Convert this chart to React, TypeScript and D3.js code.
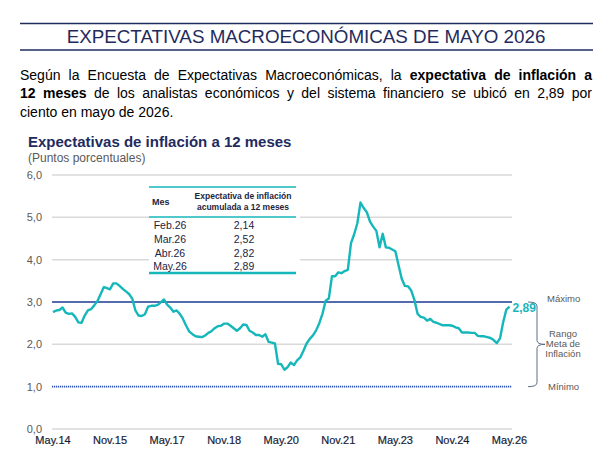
import React, { useLayoutEffect, useRef, useState } from "react";
import * as d3 from "d3";

// Monthly 12-month inflation expectation, May.14 .. May.26 (percentage points)
const expectation: number[] = [
  2.76, 2.80, 2.81, 2.87, 2.75, 2.72, 2.73, 2.65, 2.52, 2.51, 2.68, 2.80,
  2.83, 2.92, 3.02, 3.18, 3.35, 3.33, 3.30, 3.44, 3.44, 3.38, 3.31, 3.25,
  3.19, 3.08, 2.80, 2.68, 2.67, 2.71, 2.89, 2.91, 2.91, 2.93, 2.99, 3.06,
  2.94, 2.87, 2.77, 2.80, 2.72, 2.60, 2.44, 2.30, 2.24, 2.19, 2.18, 2.17,
  2.21, 2.27, 2.31, 2.38, 2.43, 2.44, 2.49, 2.49, 2.44, 2.38, 2.32, 2.38,
  2.47, 2.46, 2.32, 2.28, 2.22, 2.22, 2.18, 2.24, 2.06, 2.04, 2.02, 1.54,
  1.53, 1.40, 1.46, 1.57, 1.51, 1.62, 1.69, 1.85, 2.02, 2.13, 2.21, 2.33,
  2.50, 2.72, 3.03, 3.08, 3.61, 3.61, 3.70, 3.68, 3.73, 3.76, 4.39, 4.60,
  4.86, 5.35, 5.22, 5.12, 4.90, 4.78, 4.68, 4.29, 4.61, 4.29, 4.28, 4.24,
  4.20, 3.87, 3.55, 3.38, 3.37, 3.27, 3.05, 2.72, 2.65, 2.63, 2.56, 2.60,
  2.53, 2.51, 2.48, 2.45, 2.45, 2.45, 2.44, 2.40, 2.38, 2.28, 2.28, 2.28,
  2.27, 2.27, 2.20, 2.19, 2.19, 2.17, 2.15, 2.10, 2.03, 2.14, 2.52, 2.82,
  2.89,
];

const xTickLabels = ["May.14", "Nov.15", "May.17", "Nov.18", "May.20", "Nov.21", "May.23", "Nov.24", "May.26"];
const xTickMonths = [0, 18, 36, 54, 72, 90, 108, 126, 144];
const yTicks = [0, 1, 2, 3, 4, 5, 6];
const tableMonths = ["Feb.26", "Mar.26", "Abr.26", "May.26"];
const targetMax = 3;
const targetMin = 1;

const FONT = "'Liberation Sans', Arial, Helvetica, sans-serif";
const NAVY = "#1f2b5e";
const TEAL = "#16b7bb";
const GRAY = "#595959";
const GRID = "#d9d9d9";

const fmt1 = (v: number) => d3.format(".1f")(v).replace(".", ",");
const fmt2 = (v: number) => d3.format(".2f")(v).replace(".", ",");

export default function App() {
  const x = d3.scaleLinear().domain([0, expectation.length - 1]).range([53, 509.5]);
  const y = d3.scaleLinear().domain([0, 6]).range([429, 175]);
  const line = d3
    .line<number>()
    .x((_, i) => x(i))
    .y((d) => y(d));

  const gridX0 = 52;
  const gridX1 = 512;

  // justified paragraph lines
  const l1 = useRef<SVGTextElement>(null);
  const l2 = useRef<SVGTextElement>(null);
  const [ws, setWs] = useState<[number, number]>([0, 0]);
  useLayoutEffect(() => {
    const target = 572;
    const calc = (el: SVGTextElement | null) => {
      if (!el) return 0;
      const w = el.getComputedTextLength();
      const spaces = (el.textContent || "").split(" ").length - 1;
      return spaces > 0 ? (target - w) / spaces : 0;
    };
    setWs([calc(l1.current), calc(l2.current)]);
  }, []);

  const last = expectation.length - 1;
  const tableVals = expectation.slice(-4);
  const tX0 = 149;
  const tX1 = 296;
  const rowY = [225, 239, 253, 266];

  return (
    <svg
      width={612}
      height={465}
      style={{ position: "absolute", left: 0, top: 0, background: "#fff" }}
      fontFamily={FONT}
    >
      {/* header */}
      <line x1={20} x2={593} y1={23.5} y2={23.5} stroke={NAVY} strokeWidth={1.5} />
      <line x1={20} x2={593} y1={50} y2={50} stroke={NAVY} strokeWidth={1.5} />
      <text x={306} y={43} textAnchor="middle" fontSize={18.8} fill={NAVY}>
        EXPECTATIVAS MACROECONÓMICAS DE MAYO 2026
      </text>

      {/* paragraph */}
      <g fontSize={14} fill="#000">
        <text ref={l1} x={20} y={79.5} wordSpacing={ws[0]}>
          {"Según la Encuesta de Expectativas Macroeconómicas, la "}
          <tspan fontWeight="bold">expectativa de inflación a</tspan>
        </text>
        <text ref={l2} x={20} y={98} wordSpacing={ws[1]}>
          <tspan fontWeight="bold">12 meses</tspan>
          {" de los analistas económicos y del sistema financiero se ubicó en 2,89 por"}
        </text>
        <text x={20} y={116.5}>ciento en mayo de 2026.</text>
      </g>

      {/* chart titles */}
      <text x={28} y={147} fontSize={15} fontWeight="bold" fill={NAVY}>
        Expectativas de inflación a 12 meses
      </text>
      <text x={28} y={162} fontSize={12} fill={GRAY}>
        (Puntos porcentuales)
      </text>

      {/* grid + y labels */}
      {yTicks.map((t) => (
        <g key={t}>
          {t !== targetMax && t !== targetMin && (
            <line x1={gridX0} x2={gridX1} y1={y(t)} y2={y(t)} stroke={GRID} strokeWidth={1.5} />
          )}
          <text x={42} y={y(t) + 4} textAnchor="end" fontSize={11} fill={GRAY}>
            {fmt1(t)}
          </text>
        </g>
      ))}

      {/* target range lines */}
      <line x1={gridX0} x2={gridX1} y1={y(targetMax)} y2={y(targetMax)} stroke="#1c3a94" strokeWidth={1.5} />
      <line
        x1={gridX0}
        x2={gridX1}
        y1={y(targetMin)}
        y2={y(targetMin)}
        stroke="#2b4db3"
        strokeWidth={1.6}
        strokeDasharray="1.2 0.8"
      />

      {/* x labels */}
      {xTickMonths.map((m, i) => (
        <text key={m} x={x(m)} y={444} textAnchor="middle" fontSize={11} fill="#171d38" stroke="#171d38" strokeWidth={0.2}>
          {xTickLabels[i]}
        </text>
      ))}

      {/* table */}
      <rect x={tX0} y={187} width={tX1 - tX0 + 4} height={86} fill="#fff" />
      <line x1={tX0} x2={tX1} y1={187} y2={187} stroke={TEAL} strokeWidth={1.5} />
      <line x1={tX0} x2={tX1} y1={217} y2={217} stroke={TEAL} strokeWidth={1.5} />
      <line x1={tX0} x2={tX1} y1={273} y2={273} stroke={TEAL} strokeWidth={2.5} />
      <text x={152} y={205} fontSize={9} fontWeight="bold" fill="#1c2540">
        Mes
      </text>
      <text x={243} y={199} textAnchor="middle" fontSize={8.5} fontWeight="bold" fill="#1c2540">
        Expectativa de inflación
      </text>
      <text x={243} y={210} textAnchor="middle" fontSize={8.5} fontWeight="bold" fill="#1c2540">
        acumulada a 12 meses
      </text>
      {tableMonths.map((mo, i) => (
        <g key={mo} fontSize={10.5} fill="#1c2540">
          <text x={170} y={rowY[i] + 4} textAnchor="middle">
            {mo}
          </text>
          <text x={244} y={rowY[i] + 4} textAnchor="middle">
            {fmt2(tableVals[i])}
          </text>
        </g>
      ))}

      {/* series */}
      <path d={line(expectation) || ""} fill="none" stroke={TEAL} strokeWidth={2.4} strokeLinejoin="round" />
      <text x={x(last) + 3} y={y(expectation[last]) + 5} fontSize={12} fontWeight="bold" fill={TEAL}>
        {fmt2(expectation[last])}
      </text>

      {/* target range bracket */}
      <path
        d={`M528,${y(targetMax)} Q537,${y(targetMax)} 537,${y(targetMax) + 4} L537,${y(2) - 4} Q537,${y(2)} 545,${y(2)} Q537,${y(2)} 537,${y(2) + 4} L537,${y(targetMin) - 4} Q537,${y(targetMin)} 528,${y(targetMin)}`}
        fill="none"
        stroke="#5a6e8c"
        strokeWidth={1}
      />
      <g fontSize={9.5} fill={GRAY}>
        <text x={547} y={y(targetMax)}>Máximo</text>
        <text x={563} y={337} textAnchor="middle">Rango</text>
        <text x={563} y={347} textAnchor="middle">Meta de</text>
        <text x={563} y={357} textAnchor="middle">Inflación</text>
        <text x={548} y={y(targetMin) + 3}>Mínimo</text>
      </g>
    </svg>
  );
}
